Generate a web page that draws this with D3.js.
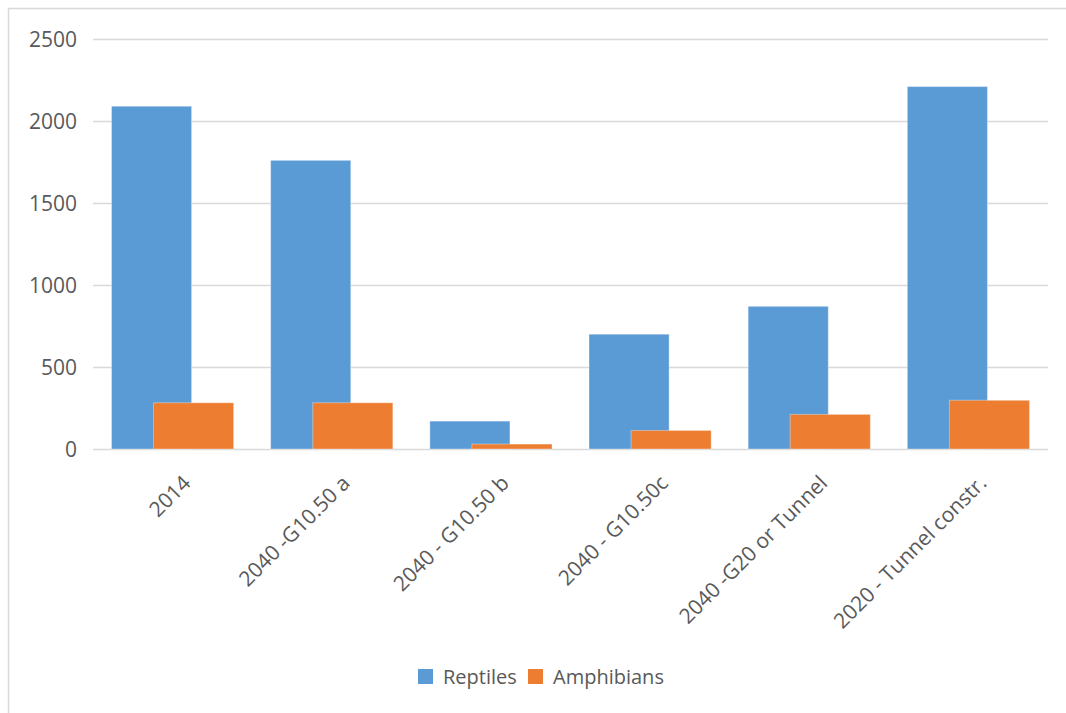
<!DOCTYPE html>
<html>
<head>
<meta charset="utf-8">
<script src="https://cdn.jsdelivr.net/npm/d3@7"></script>
<style>
  html, body { margin: 0; padding: 0; background: #fff; }
  svg { display: block; }
  text { font-family: "Open Sans", "Liberation Sans", sans-serif; fill: #595959; }
</style>
</head>
<body>
<svg id="chart" width="1066" height="713"></svg>
<script>
// Scenario categories and counts per group
const categories = ["2014", "2040 -G10.50 a", "2040 - G10.50 b", "2040 - G10.50c", "2040 -G20 or Tunnel", "2020 - Tunnel constr."];
const reptiles   = [2090, 1760, 170, 700, 870, 2210];
const amphibians = [282, 282, 30, 113, 211, 297];
const seriesNames = ["Reptiles", "Amphibians"];
const seriesColors = ["#5B9BD5", "#ED7D31"];
const yTicks = [0, 500, 1000, 1500, 2000, 2500];

const svg = d3.select("#chart");

// Outer chart frame (runs off the right and bottom edge)
svg.append("path")
  .attr("d", "M8.5,713 V8.5 H1066")
  .attr("fill", "none")
  .attr("stroke", "#d9d9d9")
  .attr("stroke-width", 1.5);

const plot = { left: 93, right: 1048, top: 39, bottom: 449 };

const y = d3.scaleLinear().domain([0, 2500]).range([plot.bottom, plot.top]);
const x = d3.scaleBand().domain(categories).range([plot.left, plot.right])
  .paddingInner(0.2325).paddingOuter(0.2325 / 2);

// Horizontal gridlines with tick labels
const yAxis = d3.axisLeft(y).tickValues(yTicks).tickSize(-(plot.right - plot.left)).tickPadding(16).tickFormat(d3.format("d"));
const gy = svg.append("g").attr("transform", `translate(${plot.left},0)`).call(yAxis);
gy.select(".domain").remove();
gy.selectAll(".tick line").attr("stroke", "#d9d9d9").attr("stroke-width", 1.6);
gy.selectAll(".tick text").attr("font-size", 21).attr("fill", "#595959").attr("dy", "0.36em");

// Clustered, overlapping bars
const overlap = 0.475;
const barW = x.bandwidth() / (2 - overlap);
const series = [reptiles, amphibians];
series.forEach((vals, si) => {
  svg.append("g").selectAll("rect")
    .data(vals)
    .join("rect")
    .attr("x", (d, i) => x(categories[i]) + si * barW * (1 - overlap))
    .attr("y", d => y(d))
    .attr("width", barW)
    .attr("height", d => y(0) - y(d))
    .attr("fill", seriesColors[si])
    .attr("stroke", "#ffffff")
    .attr("stroke-opacity", 0.35)
    .attr("stroke-width", 1);
});

// Category axis labels rotated 45 degrees
svg.append("g").selectAll("text")
  .data(categories)
  .join("text")
  .attr("transform", d => `translate(${x(d) + x.bandwidth() / 2 + 9},${plot.bottom + 25}) rotate(-45)`)
  .attr("text-anchor", "end")
  .attr("dy", "0.7em")
  .attr("font-size", 21)
  .text(d => d);

// Legend
const legend = svg.append("g");
const items = [
  { name: seriesNames[0], color: seriesColors[0], x: 418 },
  { name: seriesNames[1], color: seriesColors[1], x: 528 }
];
items.forEach(it => {
  legend.append("rect").attr("x", it.x).attr("y", 669).attr("width", 15).attr("height", 15).attr("fill", it.color);
  legend.append("text").attr("x", it.x + 25).attr("y", 677).attr("dy", "0.36em").attr("font-size", 20).text(it.name);
});
</script>
</body>
</html>
